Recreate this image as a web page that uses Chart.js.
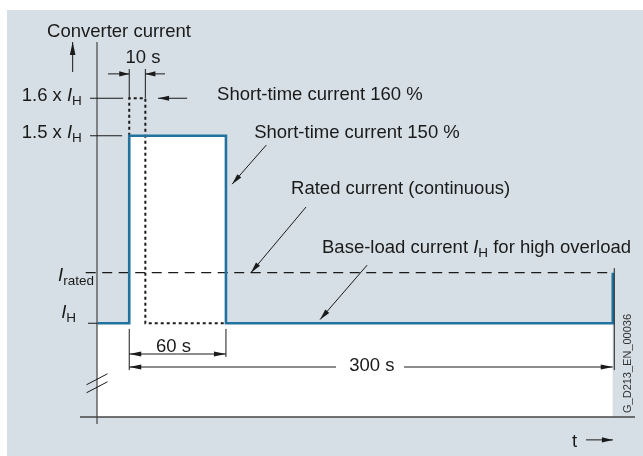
<!DOCTYPE html>
<html>
<head>
<meta charset="utf-8">
<script src="https://cdn.jsdelivr.net/npm/chart.js@4/dist/chart.umd.min.js"></script>
<style>
  html, body { margin: 0; padding: 0; background: #fff; }
  canvas { display: block; }
</style>
</head>
<body>
<canvas id="chartOverload" width="643" height="456"></canvas>
<script>
// Duty cycle for high overload: time in s, current as multiple of I_H
const I_RATED = 1.135;
const tHigh = [-20, 0, 0, 60, 60, 300, 300];
const iHigh = [1, 1, 1.5, 1.5, 1, 1, I_RATED];
const tShort = [0, 0, 10, 10, 60];
const iShort = [1.5, 1.6, 1.6, 1, 1];
const tRated = [-27, 300];
const iRated = [I_RATED, I_RATED];

const BG = '#d6dfe5';
const BLUE = '#22729f';
const INK = '#1a1a1a';
const FONT = '"Liberation Sans", Arial, sans-serif';

const toXY = (ts, vs) => ts.map((t, i) => ({ x: t, y: vs[i] }));

// text made of pieces: ['text', ''] normal, ['I', 'i'] italic, ['H', 'sub'] subscript
function label(ctx, x, y, parts, align) {
    const fontOf = s => s === 'sub' ? `13.5px ${FONT}` : s === 'i' ? `italic 18.5px ${FONT}` : `18.5px ${FONT}`;
    let w = 0;
    parts.forEach(([txt, s]) => { ctx.font = fontOf(s); w += ctx.measureText(txt).width; });
    let cx = align === 'right' ? x - w : align === 'center' ? x - w / 2 : x;
    ctx.textAlign = 'left';
    ctx.textBaseline = 'alphabetic';
    parts.forEach(([txt, s]) => {
        ctx.font = fontOf(s);
        ctx.fillText(txt, cx, s === 'sub' ? y + 4 : y);
        cx += ctx.measureText(txt).width;
    });
}

function arrow(ctx, x1, y1, x2, y2, len = 11, half = 2.6) {
    ctx.beginPath(); ctx.moveTo(x1, y1); ctx.lineTo(x2, y2); ctx.stroke();
    const a = Math.atan2(y2 - y1, x2 - x1);
    const bx = x2 - len * Math.cos(a), by = y2 - len * Math.sin(a);
    ctx.beginPath();
    ctx.moveTo(x2, y2);
    ctx.lineTo(bx + half * Math.sin(a), by - half * Math.cos(a));
    ctx.lineTo(bx - half * Math.sin(a), by + half * Math.cos(a));
    ctx.closePath(); ctx.fill();
}

function line(ctx, x1, y1, x2, y2) {
    ctx.beginPath(); ctx.moveTo(x1, y1); ctx.lineTo(x2, y2); ctx.stroke();
}

const backdrop = {
    id: 'backdrop',
    beforeDraw(chart) {
        const { ctx, width, height } = chart;
        ctx.save();
        ctx.fillStyle = '#fff';
        ctx.fillRect(0, 0, width, height);
        ctx.fillStyle = BG;
        ctx.fillRect(7, 10, width - 7, height - 10);
        ctx.restore();
    }
};

const drawing = {
    id: 'drawing',
    afterDatasetsDraw(chart) {
        const { ctx, scales: { x, y } } = chart;
        const X = t => x.getPixelForValue(t);
        const Y = v => y.getPixelForValue(v);
        ctx.save();
        ctx.fillStyle = INK;
        ctx.strokeStyle = INK;
        ctx.lineWidth = 1;

        // axes with break mark
        ctx.strokeStyle = '#5a5a5a';
        ctx.lineWidth = 1.4;
        line(ctx, X(-20), Y(1.75), X(-20), Y(0.75) + 7);
        ctx.strokeStyle = '#444';
        line(ctx, X(-20) - 17, Y(0.75), X(302) + 19, Y(0.75));
        ctx.lineWidth = 1;
        ctx.strokeStyle = INK;
        const ax = X(-20), by = Y(0.84);
        line(ctx, ax - 10.5, by + 1.5, ax + 10.5, by - 9.5);
        line(ctx, ax - 10.5, by + 9.5, ax + 10.5, by - 1.5);
        arrow(ctx, X(-35.1), Y(1.67), X(-35.1), Y(1.75), 13, 2.8);

        // ticks on the current axis
        line(ctx, X(-24.3), Y(1.6), X(-3.8), Y(1.6));
        line(ctx, X(-24.3), Y(1.5), X(-4.4), Y(1.5));
        line(ctx, X(-25.6), Y(1), X(-20), Y(1));

        label(ctx, X(-29.4), Y(1.593), [['1.6 x ', ''], ['I', 'i'], ['H', 'sub']], 'right');
        label(ctx, X(-29.4), Y(1.495), [['1.5 x ', ''], ['I', 'i'], ['H', 'sub']], 'right');
        label(ctx, X(-21.9), Y(1.113), [['I', 'i'], ['rated', 'sub']], 'right');
        label(ctx, X(-33), Y(1.014), [['I', 'i'], ['H', 'sub']], 'right');
        label(ctx, X(-51), Y(1.7625), [['Converter current', '']], 'left');

        // 10 s dimension
        line(ctx, X(0), Y(1.6), X(0), Y(1.678));
        line(ctx, X(10), Y(1.6), X(10), Y(1.678));
        arrow(ctx, X(-13.2), Y(1.665), X(0), Y(1.665), 10, 2.6);
        arrow(ctx, X(22.2), Y(1.665), X(10), Y(1.665), 10, 2.6);
        label(ctx, X(8.5), Y(1.6933), [['10 s', '']], 'center');

        // callouts
        arrow(ctx, X(35.9), Y(1.6), X(17.9), Y(1.6), 11, 2.6);
        label(ctx, X(54.5), Y(1.5953), [['Short-time current 160 %', '']], 'left');
        arrow(ctx, X(85), Y(1.475), X(63.8), Y(1.371));
        label(ctx, X(77.5), Y(1.4948), [['Short-time current 150 %', '']], 'left');
        arrow(ctx, X(109.7), Y(1.31), X(75.5), Y(I_RATED));
        label(ctx, X(100.4), Y(1.3439), [['Rated current (continuous)', '']], 'left');
        arrow(ctx, X(147.6), Y(1.155), X(118.4), Y(1.01));
        label(ctx, X(119.6), Y(1.1881), [['Base-load current ', ''], ['I', 'i'], ['H', 'sub'], [' for high overload', '']], 'left');

        // 60 s and 300 s dimensions
        line(ctx, X(0), Y(0.985), X(0), Y(0.875));
        line(ctx, X(60), Y(0.985), X(60), Y(0.91));
        line(ctx, X(300) + 1.5, Y(1.147), X(300) + 1.5, Y(0.875));
        arrow(ctx, X(30), Y(0.918), X(0), Y(0.918), 12, 2.6);
        arrow(ctx, X(30), Y(0.918), X(60), Y(0.918), 12, 2.6);
        label(ctx, X(27.5), Y(0.9233), [['60 s', '']], 'center');
        arrow(ctx, X(128.3), Y(0.8833), X(0), Y(0.8833), 12, 2.6);
        arrow(ctx, X(170.5), Y(0.8833), X(300), Y(0.8833), 12, 2.6);
        label(ctx, X(150.5), Y(0.8727), [['300 s', '']], 'center');

        // time axis caption
        label(ctx, X(276.3), Y(0.6708), [['t', '']], 'center');
        arrow(ctx, X(283.4), Y(0.689), X(300.1), Y(0.689), 11, 2.6);

        // drawing number
        ctx.translate(X(311.1), Y(0.7607));
        ctx.rotate(-Math.PI / 2);
        ctx.font = `11px ${FONT}`;
        ctx.textAlign = 'left';
        ctx.textBaseline = 'alphabetic';
        ctx.fillStyle = '#333';
        ctx.fillText('G_D213_EN_00036', 0, 0);
        ctx.restore();
    }
};

new Chart(document.getElementById('chartOverload').getContext('2d'), {
    type: 'line',
    data: {
        datasets: [
            {
                data: toXY(tHigh, iHigh),
                borderColor: BLUE, borderWidth: 2.6, backgroundColor: '#fff',
                fill: 'start', pointRadius: 0, tension: 0, borderJoinStyle: 'miter'
            },
            {
                data: toXY(tShort, iShort),
                borderColor: INK, borderWidth: 2, borderDash: [3, 3],
                fill: false, pointRadius: 0, tension: 0
            },
            {
                data: toXY(tRated, iRated),
                borderColor: INK, borderWidth: 1.2, borderDash: [10, 6.5],
                fill: false, pointRadius: 0, tension: 0, clip: false
            }
        ]
    },
    options: {
        responsive: false,
        animation: false,
        devicePixelRatio: 1,
        layout: { padding: { left: 97, right: 27, top: 42, bottom: 39 } },
        scales: {
            x: { type: 'linear', min: -20, max: 302, display: false },
            y: { min: 0.75, max: 1.75, display: false }
        },
        plugins: {
            legend: { display: false },
            tooltip: { enabled: false },
            filler: { drawTime: 'beforeDatasetsDraw' }
        }
    },
    plugins: [backdrop, drawing]
});
</script>
</body>
</html>
